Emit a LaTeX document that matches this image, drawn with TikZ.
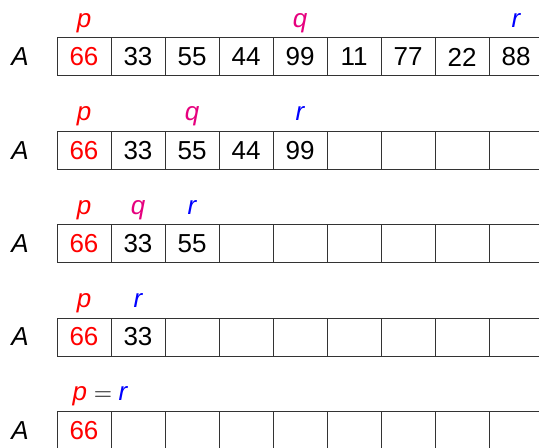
\documentclass[tikz,border=0pt]{standalone}
\usepackage{fontspec}
\setmainfont{Liberation Sans}
\definecolor{rose}{RGB}{230,0,126}
\newcommand{\taille}[0]{\fontsize{13}{15}\selectfont}
\newcommand{\rouge}[1]{\textcolor{red}{#1}}
\newcommand{\ligne}[3]{\node[nom] (A#1) at (20,#2) {A};
 	\foreach \val [count=\n] in {#3} \node[case] (r#1-\n) at ({30+54*\n},#2) {\val}}
\newcommand{\etiq}[4]{\node[lettre,text=#3] (#1) at ([yshift=5pt]#2.north) {#4}}

\tikzset{
	case/.style={draw=black!80, line width=0.5pt, minimum width=27pt, minimum height=19pt, inner sep=0pt, font=\taille},
	nom/.style={font=\taille\itshape},
	lettre/.style={font=\taille\itshape, anchor=base}
}

\begin{document}
\begin{tikzpicture}[x=0.5pt, y=-0.5pt]
	\useasboundingbox (0,0) rectangle (539,448);
%First row
	\ligne{1}{57}{\rouge{66},33,55,44,99,11,77,22,88};
	\etiq{p1}{r1-1}{red}{p};
	\etiq{q1}{r1-5}{rose}{q};
	\etiq{s1}{r1-9}{blue}{r};
%Second row
	\ligne{2}{150.3}{\rouge{66},33,55,44,99,{},{},{},{}};
	\etiq{p2}{r2-1}{red}{p};
	\etiq{q2}{r2-3}{rose}{q};
	\etiq{s2}{r2-5}{blue}{r};
%Third row
	\ligne{3}{243.7}{\rouge{66},33,55,{},{},{},{},{},{}};
	\etiq{p3}{r3-1}{red}{p};
	\etiq{q3}{r3-2}{rose}{q};
	\etiq{s3}{r3-3}{blue}{r};
%Fourth row
	\ligne{4}{337}{\rouge{66},33,{},{},{},{},{},{},{}};
	\etiq{p4}{r4-1}{red}{p};
	\etiq{s4}{r4-2}{blue}{r};
%Last row
	\ligne{5}{430.3}{\rouge{66},{},{},{},{},{},{},{},{}};
	\node[lettre] (ps5) at ([xshift=8pt,yshift=5pt]r5-1.north) {\rouge{p}${}={}$\textcolor{blue}{r}};
\end{tikzpicture}
\end{document}
